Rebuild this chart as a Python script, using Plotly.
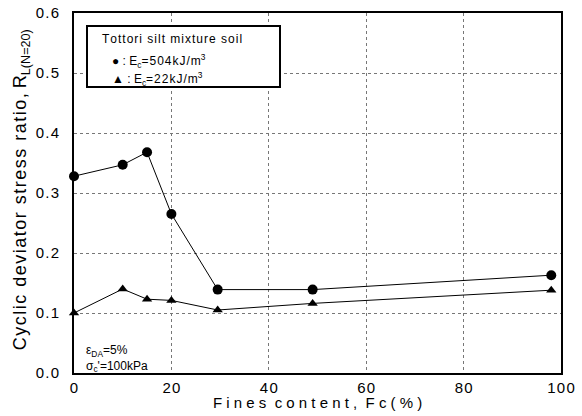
import plotly.graph_objects as go

# Fines content (%) and cyclic deviator stress ratio R_L(N=20)
fc_high = [0, 10, 15, 20, 29.5, 49, 98]
rl_high = [0.328, 0.347, 0.368, 0.265, 0.139, 0.139, 0.163]

fc_low = [0, 10, 15, 20, 29.5, 49, 98]
rl_low = [0.100, 0.140, 0.123, 0.121, 0.105, 0.116, 0.138]

x_ticks = [0, 20, 40, 60, 80, 100]
y_ticks = [0.0, 0.1, 0.2, 0.3, 0.4, 0.5, 0.6]

font = "Arial, Liberation Sans, sans-serif"
HS = "\u200a"  # hair space for letter spacing


def spaced(s):
    return HS.join(s)


fig = go.Figure()
fig.add_trace(go.Scatter(
    x=fc_high, y=rl_high, mode="lines+markers",
    line=dict(color="black", width=1),
    marker=dict(symbol="circle", size=10, color="black"),
    cliponaxis=False, showlegend=False,
))
fig.add_trace(go.Scatter(
    x=fc_low, y=rl_low, mode="lines+markers",
    line=dict(color="black", width=1),
    marker=dict(symbol="triangle-up", size=9, color="black"),
    cliponaxis=False, showlegend=False,
))

grid = dict(showgrid=True, gridcolor="#777777", griddash="dot", gridwidth=1)

fig.update_xaxes(
    range=[0, 100], tickvals=x_ticks, ticktext=[spaced(str(v)) for v in x_ticks],
    showline=True, linecolor="black", linewidth=2, mirror=True,
    ticks="", zeroline=False, ticklabelstandoff=0, automargin=False,
    tickfont=dict(family=font, size=15, color="black"),
    **grid,
)
fig.update_yaxes(
    range=[0, 0.6], tickvals=y_ticks, ticktext=[spaced(f"{v:.1f}") for v in y_ticks],
    showline=True, linecolor="black", linewidth=2, mirror=True,
    ticks="", zeroline=False, ticklabelstandoff=10, automargin=False,
    tickfont=dict(family=font, size=15, color="black"),
    **grid,
)

# Axis titles
fig.add_annotation(
    xref="paper", yref="paper", x=0.5, y=-0.083, xanchor="center", yanchor="middle",
    text="F i n e s  c o n t e n t ,  F c ( % )",
    showarrow=False, font=dict(family=font, size=15, color="black"),
)
fig.add_annotation(
    xref="paper", yref="paper", x=-0.107, y=0.51, xanchor="center", yanchor="middle",
    textangle=-90,
    text=spaced("Cyclic deviator stress ratio,") + " R<sub>L(N=20)</sub>",
    showarrow=False, font=dict(family=font, size=18, color="black"),
)

# Legend frame: an empty bordered annotation of fixed size
fig.add_annotation(
    xref="paper", yref="paper", x=0.025, y=0.967, xanchor="left", yanchor="top",
    text=" ", width=191, height=59, showarrow=False,
    bgcolor="white", bordercolor="black", borderwidth=2, borderpad=0,
)
legend_font = dict(family=font, size=12, color="black")
fig.add_annotation(
    xref="paper", yref="paper", x=0.054, y=0.928, xanchor="left", yanchor="middle",
    text=spaced("Tottori silt mixture soil"),
    showarrow=False, font=legend_font,
)
fig.add_annotation(
    xref="paper", yref="paper", x=0.073, y=0.868, xanchor="left", yanchor="middle",
    text="● " + spaced(":") + " E<sub>c</sub>" + spaced("=504kJ/m") + "<sup>3</sup>",
    showarrow=False, font=legend_font,
)
fig.add_annotation(
    xref="paper", yref="paper", x=0.073, y=0.816, xanchor="left", yanchor="middle",
    text="▲ " + spaced(":") + " E<sub>c</sub>" + spaced("=22kJ/m") + "<sup>3</sup>",
    showarrow=False, font=legend_font,
)

# Test conditions
fig.add_annotation(
    xref="paper", yref="paper", x=0.02, y=-0.008, xanchor="left", yanchor="bottom",
    text="ε<sub>DA</sub>=5%<br>σ<sub>c</sub>'=100kPa",
    align="left", showarrow=False,
    font=dict(family=font, size=12, color="black"),
)

fig.update_layout(
    width=582, height=416,
    margin=dict(l=74, r=21, t=13, b=43),
    paper_bgcolor="white", plot_bgcolor="white",
)

fig.write_html("out.html")
